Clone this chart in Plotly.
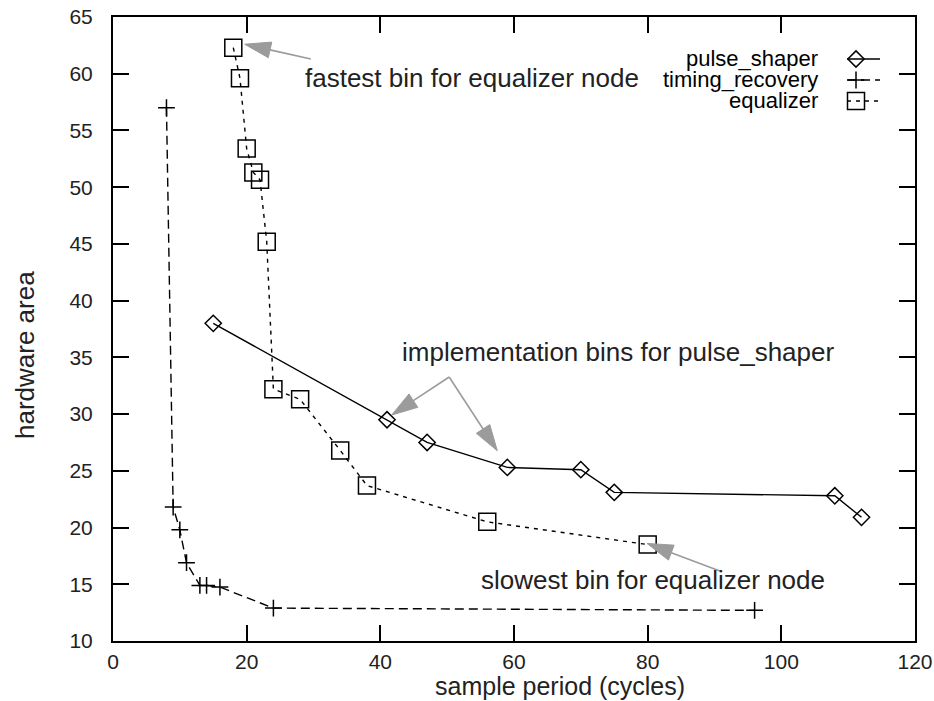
import math
import plotly.graph_objects as go

# ---------------- data ----------------
pulse_x = [15, 41, 47, 59, 70, 75, 108, 112]
pulse_y = [38.0, 29.5, 27.5, 25.3, 25.1, 23.1, 22.8, 20.9]

timing_x = [8, 9, 10, 11, 13, 14, 16, 24, 96]
timing_y = [57.0, 21.8, 19.8, 16.9, 14.9, 14.9, 14.75, 12.9, 12.7]

eq_x = [18, 19, 20, 21, 22, 23, 24, 28, 34, 38, 56, 80]
eq_y = [62.3, 59.6, 53.4, 51.3, 50.65, 45.2, 32.2, 31.3, 26.8, 23.7, 20.5, 18.5]

series_names = ["pulse_shaper", "timing_recovery", "equalizer"]
x_ticks = [0, 20, 40, 60, 80, 100, 120]
y_ticks = [10, 15, 20, 25, 30, 35, 40, 45, 50, 55, 60, 65]

# ---------------- layout constants ----------------
W, H = 934, 701
ML, MR, MT, MB = 113, 19, 17, 60
PW, PH = W - ML - MR, H - MT - MB
XR, YR = [0, 120], [10, 65]
PXX = PW / (XR[1] - XR[0])
PXY = PH / (YR[1] - YR[0])
FONT = "Liberation Sans, Arial, sans-serif"
GREY = "#9b9b9b"
BOTTOM = MT + PH  # pixel row of the x axis

styles = [
    dict(dash="solid", symbol="diamond-open", size=12.5),
    dict(dash="9px,5px", symbol="cross-thin-open", size=12),
    dict(dash="4px,5px", symbol="square-open", size=17),
]

fig = go.Figure()
for name, xs, ys, st in zip(series_names, [pulse_x, timing_x, eq_x], [pulse_y, timing_y, eq_y], styles):
    fig.add_trace(go.Scatter(
        x=xs, y=ys, name=name, mode="lines+markers", showlegend=False,
        line=dict(color="black", width=1.4, dash=st["dash"]),
        marker=dict(symbol=st["symbol"], size=st["size"], color="black",
                    line=dict(color="black", width=1.5)),
    ))

# ---------------- custom legend (text left, sample right) ----------------
leg_rows = [(BOTTOM - 59) / PH, (BOTTOM - 80) / PH, (BOTTOM - 101) / PH]
lx0, lx1, lm = (847 - ML) / PW, (880 - ML) / PW, (856 - ML) / PW
for name, st, ry in zip(series_names, styles, leg_rows):
    fig.add_trace(go.Scatter(
        x=[lx0, lx1], y=[ry, ry], mode="lines", showlegend=False, hoverinfo="skip",
        xaxis="x2", yaxis="y2", line=dict(color="black", width=1.4, dash=st["dash"])))
    fig.add_trace(go.Scatter(
        x=[lm], y=[ry], mode="markers", showlegend=False, hoverinfo="skip",
        xaxis="x2", yaxis="y2",
        marker=dict(symbol=st["symbol"], size=st["size"], color="black",
                    line=dict(color="black", width=1.5))))
    fig.add_annotation(text=name, xref="paper", yref="paper", x=(820 - ML) / PW, y=ry,
                       xanchor="right", yanchor="middle", showarrow=False,
                       font=dict(family=FONT, size=22, color="black"))

# ---------------- arrows ----------------
def arrow(tail, tip, L=26, hw=8):
    tx, ty = tail[0] * PXX, -tail[1] * PXY
    hx, hy = tip[0] * PXX, -tip[1] * PXY
    d = math.hypot(hx - tx, hy - ty)
    ux, uy = (hx - tx) / d, (hy - ty) / d
    bx, by = hx - ux * L, hy - uy * L
    p1 = (bx - uy * hw, by + ux * hw)
    p2 = (bx + uy * hw, by - ux * hw)
    to_d = lambda p: (p[0] / PXX, -p[1] / PXY)
    b = to_d((bx, by)); a1 = to_d(p1); a2 = to_d(p2)
    fig.add_shape(type="line", xref="x", yref="y", x0=tail[0], y0=tail[1], x1=b[0], y1=b[1],
                  line=dict(color=GREY, width=1.6))
    fig.add_shape(type="path", xref="x", yref="y",
                  path=f"M {tip[0]} {tip[1]} L {a1[0]} {a1[1]} L {a2[0]} {a2[1]} Z",
                  fillcolor=GREY, line=dict(color=GREY, width=1))

arrow((29.6, 61.3), (19.7, 62.6))
arrow((50.3, 33.27), (41.7, 29.92))
arrow((50.3, 33.27), (57.5, 26.77))
arrow((91.1, 16.1), (79.9, 18.6))

ann_font = dict(family=FONT, size=26, color="#222222")
fig.add_annotation(text="fastest bin for equalizer node", x=28.4, y=59.6, xanchor="left",
                   yanchor="middle", showarrow=False, font=ann_font)
fig.add_annotation(text="implementation bins for pulse_shaper", x=42.9, y=35.5, xanchor="left",
                   yanchor="middle", showarrow=False, font=ann_font)
fig.add_annotation(text="slowest bin for equalizer node", x=54.7, y=15.4, xanchor="left",
                   yanchor="middle", showarrow=False, font=ann_font)

# axis titles
fig.add_annotation(text="sample period (cycles)", xref="paper", yref="paper",
                   x=(560 - ML) / PW, y=(BOTTOM - 686) / PH, xanchor="center", yanchor="middle",
                   showarrow=False, font=dict(family=FONT, size=25, color="#222222"))
fig.add_annotation(text="hardware area", xref="paper", yref="paper", textangle=-90,
                   x=(25 - ML) / PW, y=(BOTTOM - 355) / PH, xanchor="center", yanchor="middle",
                   showarrow=False, font=dict(family=FONT, size=26, color="#222222"))

axis_common = dict(showline=True, linecolor="black", linewidth=2, mirror="allticks",
                   ticks="inside", ticklen=16, tickwidth=2, tickcolor="black",
                   showgrid=False, zeroline=False, automargin=False,
                   tickfont=dict(family=FONT, size=21, color="#222222"))

fig.update_layout(
    width=W, height=H, margin=dict(l=ML, r=MR, t=MT, b=MB, pad=0, autoexpand=False),
    paper_bgcolor="white", plot_bgcolor="white", showlegend=False,
    xaxis=dict(range=XR, tickvals=x_ticks, ticklabelstandoff=1, **axis_common),
    yaxis=dict(range=YR, tickvals=y_ticks, ticklabelstandoff=14, **axis_common),
    xaxis2=dict(range=[0, 1], overlaying="x", visible=False, fixedrange=True, automargin=False),
    yaxis2=dict(range=[0, 1], overlaying="y", visible=False, fixedrange=True, automargin=False),
)

fig.write_html("out.html", config={"displayModeBar": False},
               post_script="document.body.style.margin='0';document.body.style.overflow='hidden';")
